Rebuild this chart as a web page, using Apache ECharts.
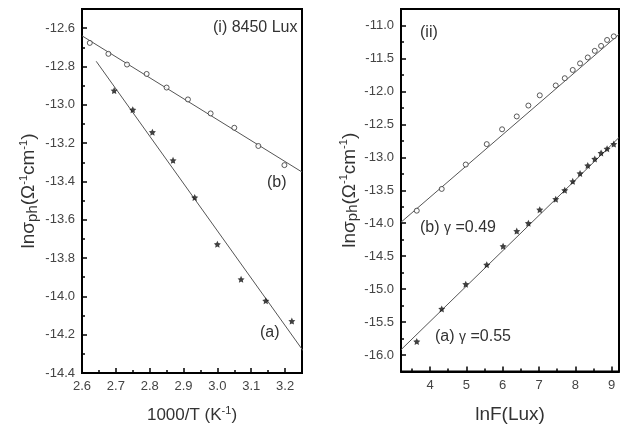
<!DOCTYPE html>
<html>
<head>
<meta charset="utf-8">
<script src="https://cdn.jsdelivr.net/npm/echarts@6/dist/echarts.min.js"></script>
<style>
  html, body { margin: 0; padding: 0; background: #fff; }
  #chart { width: 621px; height: 429px; }
</style>
</head>
<body>
<div id="chart"></div>
<script>
// panel (i): ln sigma vs 1000/T at 8450 Lux
var leftAX = [2.695, 2.750, 2.808, 2.869, 2.933, 3.000, 3.070, 3.143, 3.220];
var leftAY = [-12.926, -13.026, -13.143, -13.290, -13.484, -13.728, -13.911, -14.023, -14.129];
var leftBX = [2.623, 2.678, 2.733, 2.791, 2.850, 2.913, 2.980, 3.050, 3.121, 3.198];
var leftBY = [-12.677, -12.734, -12.790, -12.839, -12.910, -12.972, -13.045, -13.120, -13.215, -13.315];
var leftFitAX = [2.642, 3.253];
var leftFitAY = [-12.773, -14.283];
var leftFitBX = [2.6, 3.25];
var leftFitBY = [-12.640, -13.351];

// panel (ii): ln sigma vs ln F
var rightAX = [3.634, 4.321, 4.982, 5.560, 6.010, 6.386, 6.706, 7.019, 7.459, 7.707, 7.927, 8.128, 8.340, 8.533, 8.707, 8.872, 9.056];
var rightAY = [-15.795, -15.30, -14.925, -14.63, -14.35, -14.12, -14.00, -13.795, -13.635, -13.50, -13.365, -13.245, -13.125, -13.025, -12.935, -12.87, -12.80];
var rightBX = [3.634, 4.321, 4.982, 5.560, 5.982, 6.386, 6.706, 7.019, 7.459, 7.707, 7.927, 8.128, 8.340, 8.533, 8.707, 8.872, 9.056];
var rightBY = [-13.81, -13.48, -13.11, -12.80, -12.575, -12.38, -12.215, -12.06, -11.91, -11.80, -11.675, -11.575, -11.485, -11.385, -11.31, -11.22, -11.165];
var rightFitAX = [3.2, 9.2];
var rightFitAY = [-15.92, -12.70];
var rightFitBX = [3.2, 9.2];
var rightFitBY = [-13.985, -11.135];

// ticks
var leftXTicks = [2.6, 2.7, 2.8, 2.9, 3.0, 3.1, 3.2];
var leftXMinor = [2.65, 2.75, 2.85, 2.95, 3.05, 3.15];
var leftYTicks = [-14.4, -14.2, -14.0, -13.8, -13.6, -13.4, -13.2, -13.0, -12.8, -12.6];
var leftYMinor = [-14.3, -14.1, -13.9, -13.7, -13.5, -13.3, -13.1, -12.9, -12.7];
var rightXTicks = [4, 5, 6, 7, 8, 9];
var rightXMinor = [3.5, 4.5, 5.5, 6.5, 7.5, 8.5];
var rightYTicks = [-16.0, -15.5, -15.0, -14.5, -14.0, -13.5, -13.0, -12.5, -12.0, -11.5, -11.0];
var rightYMinor = [-16.25, -15.75, -15.25, -14.75, -14.25, -13.75, -13.25, -12.75, -12.25, -11.75, -11.25, -10.75];

var font = "'Liberation Sans', Arial, sans-serif";
var starPath = 'path://M0,-10 L2.9,-4 L9.5,-3.1 L4.7,1.5 L5.9,8.1 L0,5 L-5.9,8.1 L-4.7,1.5 L-9.5,-3.1 L-2.9,-4 Z';

function zip(xs, ys) {
  var out = [];
  for (var i = 0; i < xs.length; i++) out.push([xs[i], ys[i]]);
  return out;
}

var nameRich = {
  a: { fontSize: 19, color: '#333', fontFamily: font, lineHeight: 22 },
  s: { fontSize: 17, color: '#333', fontFamily: font, lineHeight: 20 },
  b: { fontSize: 15, color: '#333', fontFamily: font, verticalAlign: 'bottom', lineHeight: 16 },
  c: { fontSize: 11, color: '#333', fontFamily: font, verticalAlign: 'top', lineHeight: 12 }
};
var yName = '{a|lnσ}{b|ph}{a|(Ω}{c|-1}{a|cm}{c|-1}{a|)}';

function mainAxis(gridIndex, min, max, ticks, pos) {
  return {
    type: 'value', gridIndex: gridIndex, min: min, max: max, position: pos,
    axisLine: { show: true, onZero: false, lineStyle: { color: '#000', width: 2 } },
    axisTick: { show: true, inside: true, length: 5, customValues: ticks, lineStyle: { color: '#000', width: 1.5 } },
    axisLabel: {
      customValues: ticks, color: '#444', fontSize: 13, fontFamily: font, margin: 7,
      formatter: function (v) { return (ticks[1] - ticks[0] >= 1) ? String(Math.round(v)) : v.toFixed(1); }
    },
    splitLine: { show: false }
  };
}
function minorAxis(gridIndex, min, max, ticks, pos) {
  return {
    type: 'value', gridIndex: gridIndex, min: min, max: max, position: pos,
    axisLine: { show: false, onZero: false },
    axisTick: { show: true, inside: true, length: 3, customValues: ticks, lineStyle: { color: '#000', width: 1.5 } },
    axisLabel: { show: false },
    splitLine: { show: false }
  };
}

var x0 = mainAxis(0, 2.6, 3.25, leftXTicks, 'bottom');
x0.name = '{s|1000/T (K}{c|-1}{s|)}';
x0.nameLocation = 'middle';
x0.nameGap = 32;
x0.nameTextStyle = { rich: nameRich };
var x2 = mainAxis(1, 3.2, 9.2, rightXTicks, 'bottom');
x2.name = '{a|lnF(Lux)}';
x2.nameLocation = 'middle';
x2.nameGap = 32;
x2.nameTextStyle = { rich: nameRich };

var y0 = mainAxis(0, -14.4, -12.5, leftYTicks, 'left');
y0.name = yName;
y0.nameLocation = 'middle';
y0.nameGap = 42;
y0.nameTextStyle = { rich: nameRich };
var y2 = mainAxis(1, -16.25, -10.75, rightYTicks, 'left');
y2.name = yName;
y2.nameLocation = 'middle';
y2.nameGap = 40;
y2.nameTextStyle = { rich: nameRich };

function fitLine(xi, yi, xs, ys) {
  return {
    type: 'line', xAxisIndex: xi, yAxisIndex: yi, data: zip(xs, ys),
    showSymbol: false, symbol: 'none', silent: true, z: 2,
    lineStyle: { color: '#555', width: 1 }
  };
}
function circles(xi, yi, xs, ys) {
  return {
    type: 'scatter', xAxisIndex: xi, yAxisIndex: yi, data: zip(xs, ys),
    symbol: 'circle', symbolSize: 5, z: 3,
    itemStyle: { color: '#fff', borderColor: '#333', borderWidth: 1 }
  };
}
function stars(xi, yi, xs, ys) {
  return {
    type: 'scatter', xAxisIndex: xi, yAxisIndex: yi, data: zip(xs, ys),
    symbol: starPath, symbolSize: 7, z: 3,
    itemStyle: { color: '#111' }
  };
}

function note(left, top, rich, text) {
  return { type: 'text', left: left, top: top, z: 10, style: { text: text, rich: rich, font: '16px ' + font, fill: '#333' } };
}
var noteRich = {
  t: { fontSize: 16, color: '#333', fontFamily: font },
  g: { fontSize: 14, color: '#777', fontFamily: font }
};

var option = {
  animation: false,
  backgroundColor: '#fff',
  grid: [
    { left: 82, top: 9, width: 220, height: 364, show: true, borderColor: '#000', borderWidth: 2, containLabel: false },
    { left: 401, top: 9, width: 218, height: 365, show: true, borderColor: '#000', borderWidth: 2, containLabel: false }
  ],
  xAxis: [x0, minorAxis(0, 2.6, 3.25, leftXMinor, 'bottom'), x2, minorAxis(1, 3.2, 9.2, rightXMinor, 'bottom')],
  yAxis: [y0, minorAxis(0, -14.4, -12.5, leftYMinor, 'left'), y2, minorAxis(1, -16.25, -10.75, rightYMinor, 'left')],
  series: [
    fitLine(0, 0, leftFitAX, leftFitAY),
    fitLine(0, 0, leftFitBX, leftFitBY),
    circles(0, 0, leftBX, leftBY),
    stars(0, 0, leftAX, leftAY),
    fitLine(2, 2, rightFitAX, rightFitAY),
    fitLine(2, 2, rightFitBX, rightFitBY),
    circles(2, 2, rightBX, rightBY),
    stars(2, 2, rightAX, rightAY)
  ],
  graphic: [
    note(213, 20, noteRich, '{t|(i) 8450 Lux}'),
    note(267, 175, noteRich, '{t|(b)}'),
    note(260, 325, noteRich, '{t|(a)}'),
    note(420, 25, noteRich, '{t|(ii)}'),
    note(420, 220, noteRich, '{t|(b) }{g|γ}{t| =0.49}'),
    note(435, 329, noteRich, '{t|(a) }{g|γ}{t| =0.55}')
  ]
};

var chart = echarts.init(document.getElementById('chart'), null, { renderer: 'canvas' });
chart.setOption(option);
</script>
</body>
</html>
